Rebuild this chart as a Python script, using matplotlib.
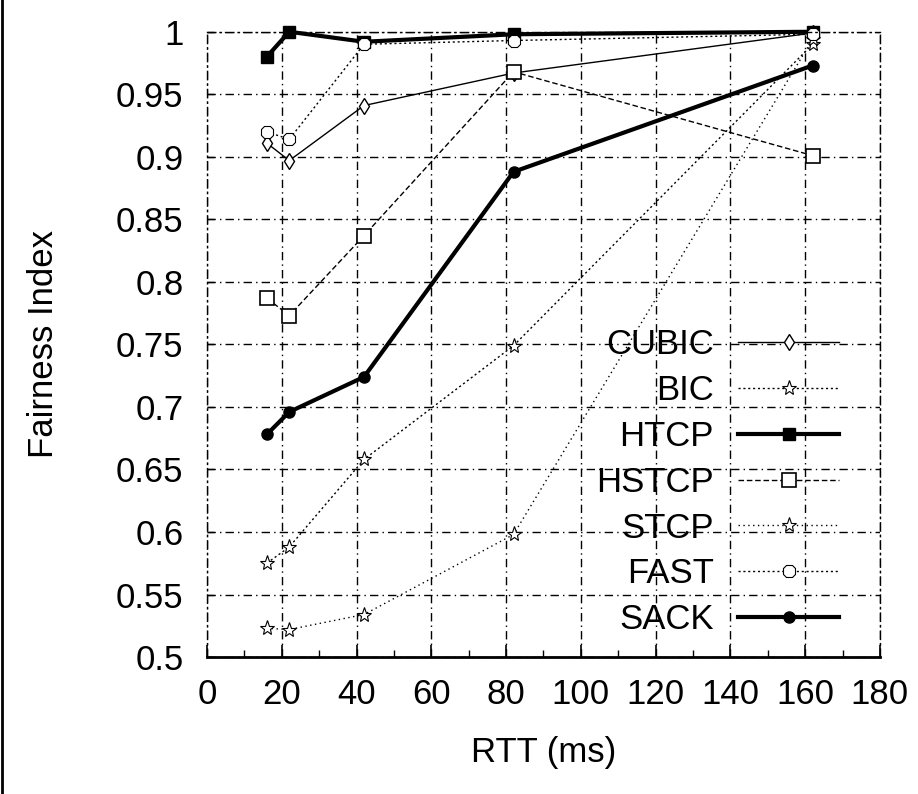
import numpy as np
import matplotlib
matplotlib.use("Agg")
import matplotlib.pyplot as plt
from matplotlib.lines import Line2D

plt.rcParams['font.family'] = ['Liberation Sans', 'DejaVu Sans']

# RTT values (ms) and fairness index per protocol
rtt = [16, 22, 42, 82, 162]
cubic = [0.911, 0.897, 0.941, 0.967, 0.999]
bic = [0.575, 0.588, 0.658, 0.749, 0.990]
htcp = [0.980, 1.000, 0.992, 0.998, 1.000]
hstcp = [0.787, 0.773, 0.837, 0.968, 0.901]
stcp = [0.523, 0.522, 0.534, 0.598, 0.994]
fast = [0.920, 0.914, 0.990, 0.993, 0.998]
sack = [0.678, 0.696, 0.724, 0.888, 0.973]

names = ["CUBIC", "BIC", "HTCP", "HSTCP", "STCP", "FAST", "SACK"]
series = [cubic, bic, htcp, hstcp, stcp, fast, sack]

x_ticks = [0, 20, 40, 60, 80, 100, 120, 140, 160, 180]
y_ticks = [0.5, 0.55, 0.6, 0.65, 0.7, 0.75, 0.8, 0.85, 0.9, 0.95, 1.0]
y_labels = ["0.5", "0.55", "0.6", "0.65", "0.7", "0.75", "0.8", "0.85", "0.9", "0.95", "1"]

styles = [
    dict(ls="-", lw=1.0, marker="d", ms=8, mfc="white", mew=1.0),
    dict(ls=(0, (1.5, 2)), lw=1.0, marker="*", ms=11, mfc="white", mew=0.8),
    dict(ls="-", lw=3.0, marker="s", ms=9, mfc="black", mew=1.0),
    dict(ls=(0, (4, 2)), lw=1.0, marker="s", ms=10, mfc="white", mew=1.2),
    dict(ls=(0, (1, 2.5)), lw=1.0, marker="*", ms=11, mfc="white", mew=0.8),
    dict(ls=(0, (1.5, 2)), lw=1.0, marker="8", ms=10, mfc="white", mew=0.8),
    dict(ls="-", lw=3.0, marker="o", ms=8, mfc="black", mew=1.0),
]

fig = plt.figure(figsize=(9.18, 7.94), dpi=100)
ax = fig.add_axes([0.2255, 0.1725, 0.733, 0.7875])

for name, vals, st in zip(names, series, styles):
    ax.plot(rtt, vals, color="black", label=name, clip_on=False, **st)

ax.set_xlim(0, 180)
ax.set_ylim(0.5, 1.0)
ax.set_xticks(x_ticks)
ax.set_xticks(np.arange(10, 180, 20), minor=True)
ax.set_yticks(y_ticks)
ax.set_yticklabels(y_labels)
ax.tick_params(axis="both", which="both", direction="in", labelsize=25, color="black")
ax.tick_params(axis="x", which="major", length=9, width=1.2, pad=15)
ax.tick_params(axis="x", which="minor", length=5, width=1.0)
ax.tick_params(axis="y", which="major", length=5, width=1.0, pad=17)

ax.grid(True, which="major", color="black", lw=1.0, ls=(0, (6, 3, 1, 3)))
for side in ["top", "right", "left"]:
    ax.spines[side].set_linestyle((0, (6, 3, 1, 3)))
    ax.spines[side].set_linewidth(1.0)
ax.spines["bottom"].set_linewidth(2.0)

ax.set_xlabel("RTT (ms)", fontsize=25, labelpad=18)
ax.set_ylabel("Fairness Index", fontsize=25, labelpad=40)

leg = ax.legend(loc="lower right", bbox_to_anchor=(0.97, 0.0), frameon=False,
                markerfirst=False, fontsize=25, handlelength=2.9,
                labelspacing=0.37, handletextpad=0.7, borderaxespad=0.2)

fig.add_artist(Line2D([0.002, 0.002], [0, 1], color="black", lw=2, transform=fig.transFigure))

fig.savefig("out.png", dpi=100)
